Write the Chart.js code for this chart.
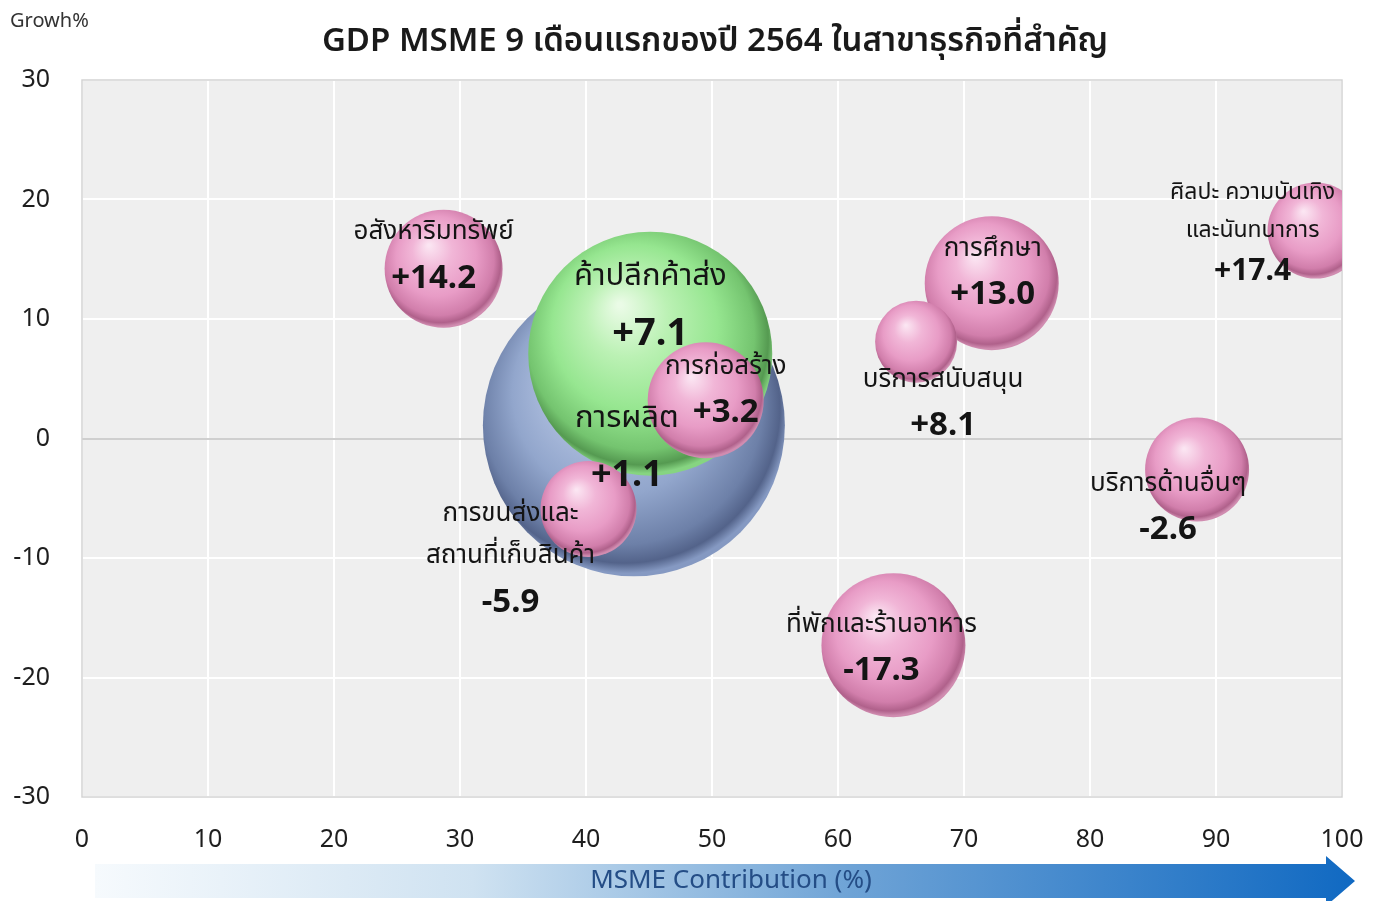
<!DOCTYPE html>
<html>
<head>
<meta charset="utf-8">
<script src="https://cdn.jsdelivr.net/npm/chart.js@4.4.1/dist/chart.umd.min.js"></script>
<style>
  html, body { margin: 0; padding: 0; background: #fff; }
  #wrap { width: 1379px; height: 901px; }
</style>
</head>
<body>
<div id="wrap"><canvas id="gdpChart" width="1379" height="901"></canvas></div>
<script>
// sectors drawn back to front: big ones first so the small bubbles sit on top
const sectors = ['การผลิต', 'ค้าปลีกค้าส่ง', 'อสังหาริมทรัพย์', 'การก่อสร้าง', 'การขนส่งและสถานที่เก็บสินค้า',
  'การศึกษา', 'บริการสนับสนุน', 'ศิลปะ ความบันเทิง และนันทนาการ', 'บริการด้านอื่นๆ', 'ที่พักและร้านอาหาร'];
const sectorLines = [['การผลิต'], ['ค้าปลีกค้าส่ง'], ['อสังหาริมทรัพย์'], ['การก่อสร้าง'], ['การขนส่งและ', 'สถานที่เก็บสินค้า'],
  ['การศึกษา'], ['บริการสนับสนุน'], ['ศิลปะ ความบันเทิง', 'และนันทนาการ'], ['บริการด้านอื่นๆ'], ['ที่พักและร้านอาหาร']];
const contribution = [43.8, 45.1, 28.7, 49.5, 40.2, 72.2, 66.2, 97.9, 88.5, 64.4];
const growth = [1.1, 7.1, 14.2, 3.2, -5.9, 13.0, 8.1, 17.4, -2.6, -17.3];
const bubbleSize = [151, 122, 59, 58, 48, 67, 41, 48, 52, 72];
const growthText = ['+1.1', '+7.1', '+14.2', '+3.2', '-5.9', '+13.0', '+8.1', '+17.4', '-2.6', '-17.3'];
const xTicks = [0, 10, 20, 30, 40, 50, 60, 70, 80, 90, 100];
const yTicks = [-30, -20, -10, 0, 10, 20, 30];

// label placement relative to bubble centre: [dx, nameDy, valueDy, nameSize, valueSize, lineGap]
const labelPos = [
  [-7, -7, 50, 31, 36, 0],
  [0, -77, -19, 31, 38, 0],
  [-10, -37, 10, 26, 33, 0],
  [20, -34, 12, 26, 33, 0],
  [-78, 5, 94, 26, 33, 42],
  [1, -35, 11, 26, 33, 0],
  [27, 38, 84, 26, 33, 0],
  [-63, -38, 41, 23, 30, 38],
  [-29, 14, 60, 26, 33, 0],
  [-12, -21, 25, 26, 33, 0]
];

const palettes = {
  blue: ['#d3ddf0', '#b0c0e0', '#92a6cc', '#6d80a8', '#53638a', '#8599c2'],
  green: ['#eafbe6', '#bbf1b4', '#96e690', '#74c46f', '#559a51', '#86d481'],
  pink: ['#fbe5f2', '#f1b6d7', '#e89cc6', '#d17eab', '#b0618b', '#d08cb0']
};
const kinds = ['blue', 'green', 'pink', 'pink', 'pink', 'pink', 'pink', 'pink', 'pink', 'pink'];

const FONT = "'Noto Sans', 'Noto Sans Thai', 'Leelawadee UI', Tahoma, sans-serif";

function sphere(context) {
  const chart = context.chart;
  const i = context.dataIndex;
  const p = palettes[kinds[i]];
  if (!chart.chartArea || !chart.scales.x) return p[2];
  const cx = chart.scales.x.getPixelForValue(contribution[i]);
  const cy = chart.scales.y.getPixelForValue(growth[i]);
  const r = bubbleSize[i];
  const g = chart.ctx.createRadialGradient(cx - r * 0.25, cy - r * 0.4, r * 0.02, cx - r * 0.05, cy - r * 0.1, r * 1.08);
  g.addColorStop(0, p[0]);
  g.addColorStop(0.3, p[1]);
  g.addColorStop(0.62, p[2]);
  g.addColorStop(0.86, p[3]);
  g.addColorStop(0.95, p[4]);
  g.addColorStop(1, p[5]);
  return g;
}

const decor = {
  id: 'decor',
  beforeDraw(chart) {
    const { ctx, chartArea: a } = chart;
    ctx.save();
    ctx.fillStyle = '#efefef';
    ctx.fillRect(a.left, a.top, a.right - a.left, a.bottom - a.top);
    ctx.restore();
  },
  beforeDatasetsDraw(chart) {
    const { ctx, chartArea: a } = chart;
    ctx.save();
    ctx.strokeStyle = '#d4d4d4';
    ctx.lineWidth = 1.5;
    ctx.strokeRect(a.left, a.top, a.right - a.left, a.bottom - a.top);
    ctx.restore();
  },
  afterDatasetsDraw(chart) {
    const { ctx } = chart;
    const xs = chart.scales.x, ys = chart.scales.y;
    ctx.save();
    ctx.fillStyle = '#141414';
    ctx.textAlign = 'center';
    ctx.textBaseline = 'middle';
    sectorLines.forEach((lines, i) => {
      const cx = xs.getPixelForValue(contribution[i]);
      const cy = ys.getPixelForValue(growth[i]);
      const [dx, ndy, vdy, ns, vs, gap] = labelPos[i];
      ctx.font = ns + 'px ' + FONT;
      lines.forEach((t, k) => ctx.fillText(t, cx + dx, cy + ndy + k * gap));
      ctx.font = 'bold ' + vs + 'px ' + FONT;
      ctx.fillText(growthText[i], cx + dx, cy + vdy);
    });
    ctx.restore();
  },
  afterDraw(chart) {
    const { ctx } = chart;
    ctx.save();
    // title
    ctx.fillStyle = '#1a1a1a';
    ctx.textAlign = 'center';
    ctx.textBaseline = 'middle';
    ctx.font = '600 33px ' + FONT;
    ctx.fillText('GDP MSME 9 เดือนแรกของปี 2564 ในสาขาธุรกิจที่สำคัญ', 715, 42);
    // y axis name
    ctx.textAlign = 'left';
    ctx.font = '20px ' + FONT;
    ctx.fillStyle = '#333';
    ctx.fillText('Growh%', 10, 21);
    // x axis arrow
    const top = 864, bot = 898, x0 = 95, xh = 1326, tip = 1355;
    const g = ctx.createLinearGradient(x0, 0, tip, 0);
    g.addColorStop(0, '#f6fafd');
    g.addColorStop(0.3, '#cfe2f1');
    g.addColorStop(0.6, '#6ea3d6');
    g.addColorStop(1, '#1069c2');
    ctx.fillStyle = g;
    ctx.beginPath();
    ctx.moveTo(x0, top);
    ctx.lineTo(xh, top);
    ctx.lineTo(xh, 856);
    ctx.lineTo(tip, 881);
    ctx.lineTo(xh, 906);
    ctx.lineTo(xh, bot);
    ctx.lineTo(x0, bot);
    ctx.closePath();
    ctx.fill();
    ctx.fillStyle = '#244d86';
    ctx.textAlign = 'center';
    ctx.font = '26px ' + FONT;
    ctx.fillText('MSME Contribution (%)', 731, 881);
    ctx.restore();
  }
};

new Chart(document.getElementById('gdpChart'), {
  type: 'bubble',
  data: {
    labels: sectors,
    datasets: [{
      label: 'MSME',
      data: sectors.map((s, i) => ({ x: contribution[i], y: growth[i], r: bubbleSize[i] })),
      backgroundColor: sphere,
      borderWidth: 0,
      clip: 0
    }]
  },
  options: {
    responsive: false,
    animation: false,
    events: [],
    layout: { autoPadding: false, padding: { top: 80, right: 37, left: 0, bottom: 0 } },
    plugins: { legend: { display: false }, tooltip: { enabled: false }, title: { display: false } },
    scales: {
      x: {
        type: 'linear', min: 0, max: 100,
        afterBuildTicks: s => { s.ticks = xTicks.map(v => ({ value: v })); },
        afterFit: s => { s.height = 104; s.paddingLeft = 0; s.paddingRight = 0; },
        grid: { color: '#ffffff', lineWidth: 2, drawTicks: false },
        border: { display: false },
        ticks: { padding: 28, color: '#1e1e1e', font: { size: 25, family: FONT } }
      },
      y: {
        type: 'linear', min: -30, max: 30,
        afterBuildTicks: s => { s.ticks = yTicks.map(v => ({ value: v })); },
        afterFit: s => { s.width = 82; },
        grid: { color: c => (c.tick && c.tick.value === 0 ? '#cfcfcf' : '#ffffff'), lineWidth: 2, drawTicks: false },
        border: { display: false },
        ticks: { padding: 32, color: '#1e1e1e', font: { size: 25, family: FONT } }
      }
    }
  },
  plugins: [decor]
});
</script>
</body>
</html>
